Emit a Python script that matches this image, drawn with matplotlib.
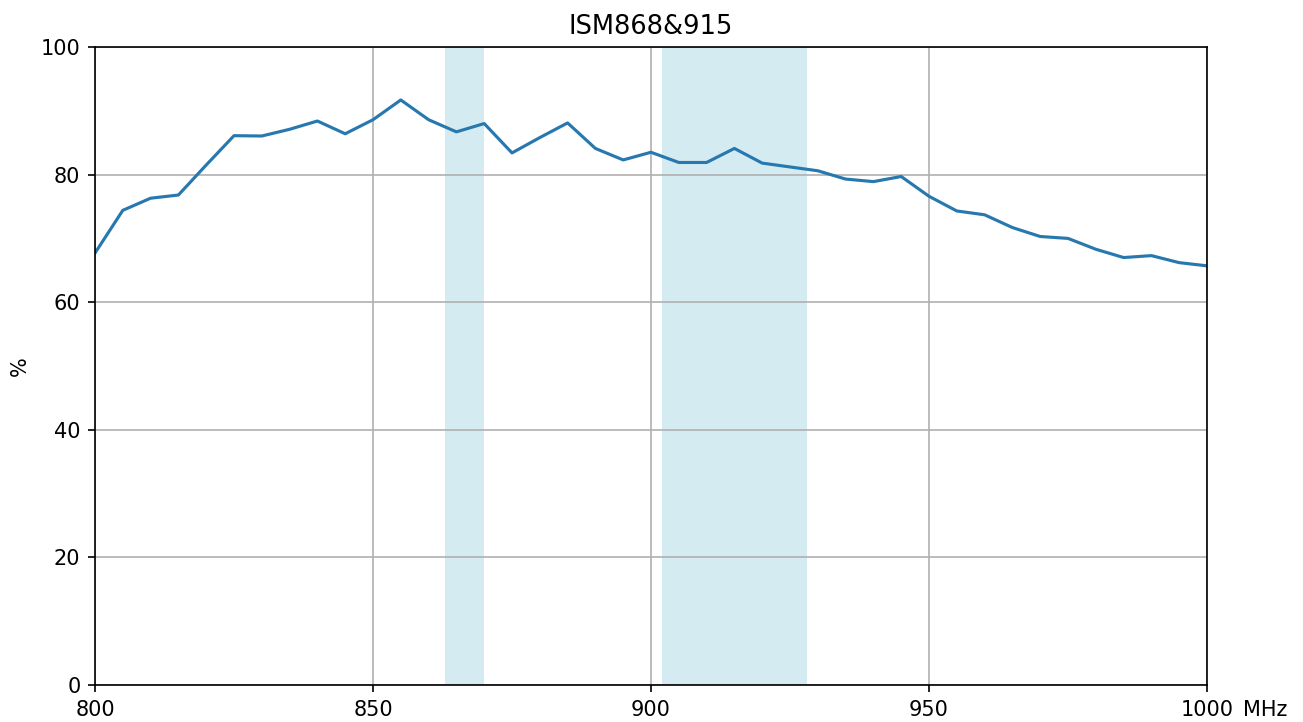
import matplotlib
matplotlib.use("Agg")
import matplotlib.pyplot as plt

freq_mhz = list(range(800, 1001, 5))
efficiency = [67.7, 74.4, 76.3, 76.8, 81.5, 86.1, 86.05, 87.1, 88.4, 86.4,
              88.6, 91.7, 88.6, 86.7, 88.0, 83.4, 85.8, 88.1, 84.1, 82.3,
              83.5, 81.9, 81.9, 84.1, 81.8, 81.2, 80.6, 79.3, 78.9, 79.7,
              76.6, 74.3, 73.7, 71.7, 70.3, 70.0, 68.3, 67.0, 67.3, 66.2, 65.7]
bands = [(863, 870), (902, 928)]
xticks = [800, 850, 900, 950, 1000]
xtick_labels = ["800", "850", "900", "950", "1000"]
x_unit = "MHz"
yticks = [0, 20, 40, 60, 80, 100]
title = "ISM868&915"

s = 1.5
plt.rcParams.update({
    "font.size": 10 * s,
    "axes.linewidth": 0.8 * s,
    "xtick.major.size": 3.5 * s,
    "ytick.major.size": 3.5 * s,
    "xtick.major.width": 0.8 * s,
    "ytick.major.width": 0.8 * s,
    "xtick.major.pad": 3.5 * s,
    "ytick.major.pad": 3.5 * s,
    "axes.titlepad": 6 * s,
    "grid.linewidth": 0.8 * s,
})

fig = plt.figure(figsize=(13.03, 7.22), dpi=100)
ax = fig.add_axes([95/1303, 1 - 685/722, (1207-95)/1303, (685-47)/722])
for lo, hi in bands:
    ax.axvspan(lo, hi, color="lightblue", alpha=0.5, lw=0)
ax.plot(freq_mhz, efficiency, color="#2878b0", lw=1.5 * s)
ax.set_xlim(800, 1000)
ax.set_ylim(0, 100)
ax.set_xticks(xticks)
ax.set_xticklabels(xtick_labels)
ax.set_yticks(yticks)
ax.grid(True, color="#b0b0b0")
ax.set_ylabel("%", fontsize=10 * s, labelpad=8)
ax.set_title(title, fontsize=18.5)
# place the unit on the same baseline as the last tick label
last = ax.get_xticklabels()[-1]
ax.annotate(x_unit, xy=(1, 0), xycoords="axes fraction",
            xytext=(36, -14.6), textcoords="offset pixels",
            ha="left", va="top", fontsize=10 * s)
fig.savefig("out.png", dpi=100)
